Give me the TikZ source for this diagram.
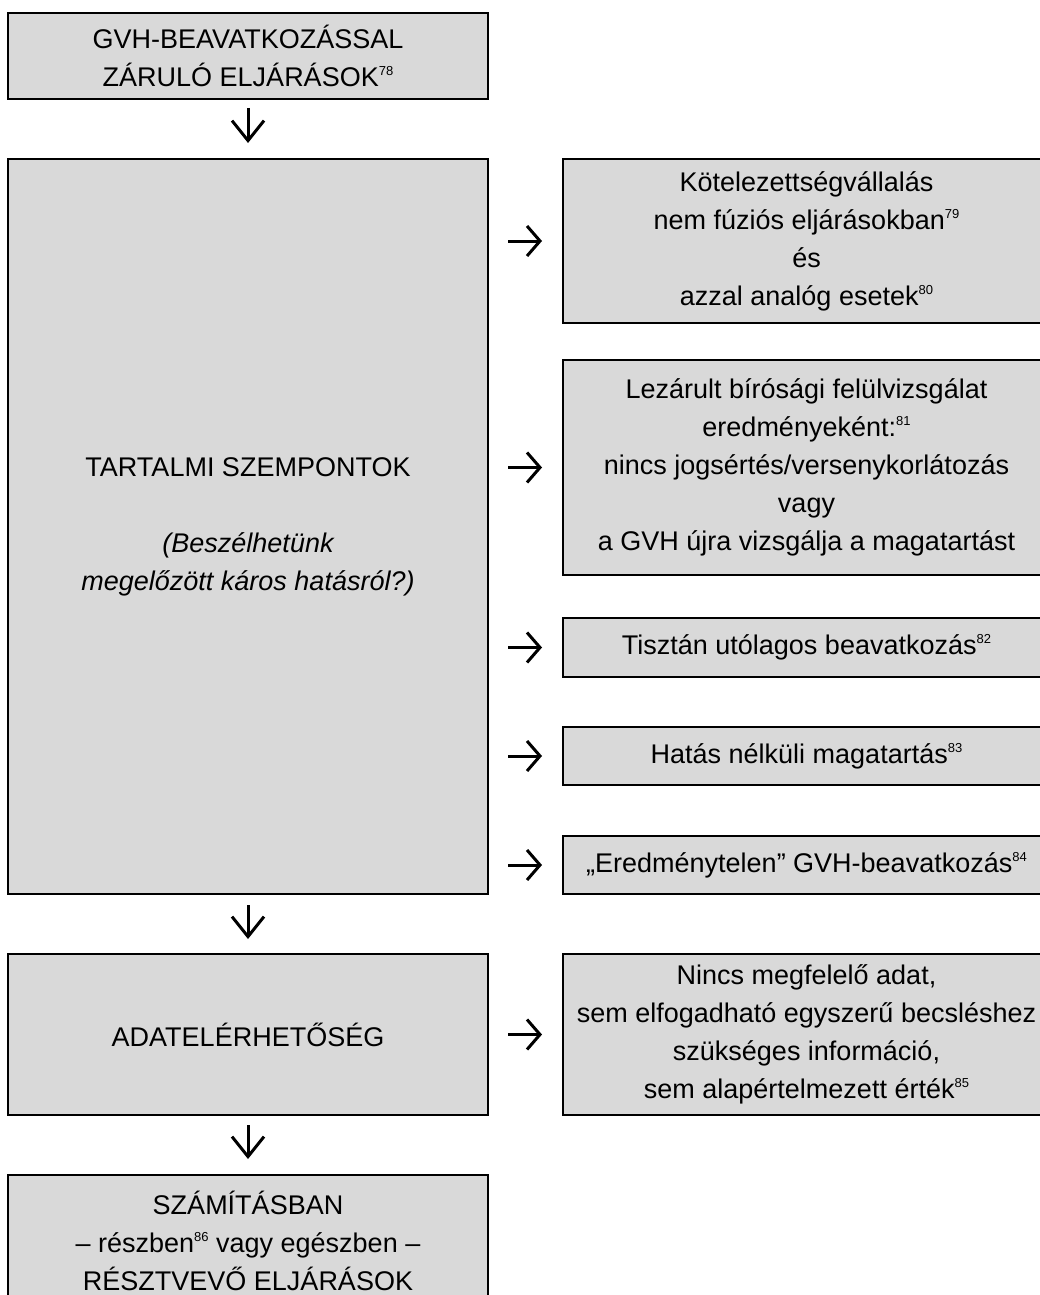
\documentclass[tikz,border=0pt]{standalone}
\usepackage{fontspec}
\setmainfont{Liberation Sans}
\usepackage{xcolor}
\usepackage{tikz}
\usetikzlibrary{positioning,arrows.meta}

\definecolor{boxgray}{HTML}{D9D9D9}
\newcommand{\fn}[1]{\raisebox{0.75ex}{\fontsize{6.5}{7}\selectfont #1}}

\tikzset{
  flowbox/.style={draw, line width=1.25pt, fill=boxgray, align=center,
    inner sep=0pt, outer sep=0pt, minimum width=240pt,
    font=\fontsize{13.5}{19}\selectfont},
  sidebox/.style={flowbox, minimum width=243.5pt},
  downarrow/.style={line width=1.5pt, -{Straight Barb[length=10pt,width=16pt]}},
  rightarrow/.style={line width=1.5pt, -{Straight Barb[length=6.5pt,width=15pt]}}
}

\begin{document}
\begin{tikzpicture}[x=0.5pt,y=-0.5pt]
\useasboundingbox (0,0) rectangle (1039,1295);

\node[flowbox, minimum height=43pt] (top) at (248,56)
  {GVH-BEAVATKOZÁSSAL\\ZÁRULÓ ELJÁRÁSOK\fn{78}};
\node[flowbox, minimum height=367.5pt] (tartalmi) at (248,526.5)
  {TARTALMI SZEMPONTOK\\[19pt]{\itshape (Beszélhetünk}\\{\itshape megelőzött káros hatásról?)}};
\node[flowbox, minimum height=80.5pt] (adat) at (248,1034.5)
  {ADATELÉRHETŐSÉG};
\node[flowbox, minimum height=66pt] (szamitas) at (248,1241)
  {SZÁMÍTÁSBAN\\– részben\fn{86} vagy egészben –\\RÉSZTVEVŐ ELJÁRÁSOK};

\node[sidebox, minimum height=82pt] (kotel) at (806.5,241)
  {Kötelezettségvállalás\\nem fúziós eljárásokban\fn{79}\\és\\azzal analóg esetek\fn{80}};
\node[sidebox, minimum height=107.5pt] (lezarult) at (806.5,467.5)
  {Lezárult bírósági felülvizsgálat\\eredményeként:\fn{81}\\nincs jogsértés/versenykorlátozás\\vagy\\a GVH újra vizsgálja a magatartást};
\node[sidebox, minimum height=29.5pt] (tisztan) at (806.5,647.5)
  {Tisztán utólagos beavatkozás\fn{82}};
\node[sidebox, minimum height=29pt] (hatas) at (806.5,756)
  {Hatás nélküli magatartás\fn{83}};
\node[sidebox, minimum height=29pt] (eredm) at (806.5,865)
  {„Eredménytelen” GVH-beavatkozás\fn{84}};
\node[sidebox, minimum height=80.5pt] (nincs) at (806.5,1034.5)
  {Nincs megfelelő adat,\\sem elfogadható egyszerű becsléshez\\szükséges információ,\\sem alapértelmezett érték\fn{85}};

\draw[downarrow] ([yshift=-4.5pt]top.south) -- ([yshift=8pt]tartalmi.north);
\draw[downarrow] ([yshift=-5.5pt]tartalmi.south) -- ([yshift=7.5pt]adat.north);
\draw[downarrow] ([yshift=-5pt]adat.south) -- ([yshift=8pt]szamitas.north);

\draw[rightarrow] ([xshift=10pt]tartalmi.east |- kotel.west) -- ([xshift=-10.5pt]kotel.west);
\draw[rightarrow] ([xshift=10pt]tartalmi.east |- lezarult.west) -- ([xshift=-10.5pt]lezarult.west);
\draw[rightarrow] ([xshift=10pt]tartalmi.east |- tisztan.west) -- ([xshift=-10.5pt]tisztan.west);
\draw[rightarrow] ([xshift=10pt]tartalmi.east |- hatas.west) -- ([xshift=-10.5pt]hatas.west);
\draw[rightarrow] ([xshift=10pt]tartalmi.east |- eredm.west) -- ([xshift=-10.5pt]eredm.west);
\draw[rightarrow] ([xshift=10pt]adat.east) -- ([xshift=-10.5pt]nincs.west);
\end{tikzpicture}
\end{document}
